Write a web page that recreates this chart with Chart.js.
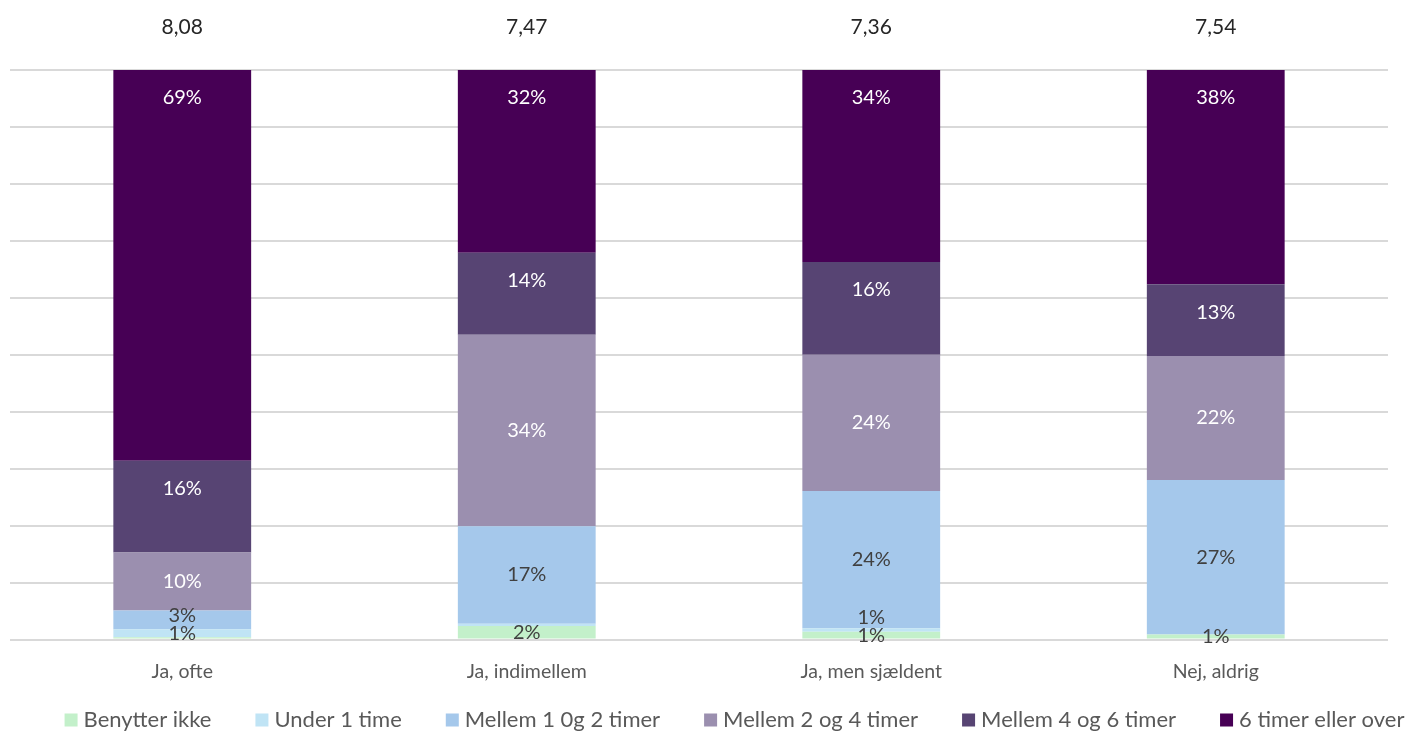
<!DOCTYPE html>
<html>
<head>
<meta charset="utf-8">
<script src="https://cdn.jsdelivr.net/npm/chart.js@4/dist/chart.umd.min.js"></script>
<style>
html,body{margin:0;padding:0;background:#fff;}
#wrap{width:1409px;height:735px;}
</style>
</head>
<body>
<div id="wrap"><canvas id="c" width="1409" height="735"></canvas></div>
<script>
const categories = ["Ja, ofte", "Ja, indimellem", "Ja, men sjældent", "Nej, aldrig"];
const averages = ["8,08", "7,47", "7,36", "7,54"];
const seriesNames = ["Benytter ikke", "Under 1 time", "Mellem 1 0g 2 timer", "Mellem 2 og 4 timer", "Mellem 4 og 6 timer", "6 timer eller over"];
const benytterIkke = [0.4, 2.4, 1.4, 0.9];
const under1 = [1.4, 0.4, 0.6, 0];
const mellem1og2 = [3.3, 17.1, 24.1, 27.1];
const mellem2og4 = [10.2, 33.6, 23.9, 21.8];
const mellem4og6 = [16.1, 14.4, 16.3, 12.6];
const over6 = [68.6, 32.1, 33.7, 37.6];

const seriesValues = [benytterIkke, under1, mellem1og2, mellem2og4, mellem4og6, over6];
const colors = ["#C3F0CA", "#C0E4F5", "#A5C8EB", "#9B8FAF", "#574473", "#470055"];
const labelColors = ["#404040", "#404040", "#404040", "#ffffff", "#ffffff", "#ffffff"];
const labelAnchor = ["center", "center", "center", "center", "end", "end"];
const FONT = "Lato, 'Open Sans', sans-serif";

const segLabels = {
  id: 'segLabels',
  afterDatasetsDraw(chart) {
    const ctx = chart.ctx;
    ctx.save();
    ctx.textAlign = "center";
    ctx.textBaseline = "middle";
    categories.forEach((cat, i) => {
      let lastY = null;
      ctx.font = "20px " + FONT;
      chart.data.datasets.forEach((ds, d) => {
        const v = ds.data[i];
        const r = Math.round(v);
        if (r < 1) return;
        const bar = chart.getDatasetMeta(d).data[i];
        let y = labelAnchor[d] === "end" ? bar.y + 28 : (bar.y + bar.base) / 2;
        if (lastY !== null && lastY - y < 18) y = lastY - 18;
        lastY = y;
        ctx.fillStyle = labelColors[d];
        ctx.fillText(r + "%", bar.x, y);
      });
      const topBar = chart.getDatasetMeta(chart.data.datasets.length - 1).data[i];
      ctx.font = "21px " + FONT;
      ctx.fillStyle = "#262626";
      ctx.fillText(averages[i], topBar.x, 27);
    });
    ctx.restore();
  }
};

const customLegend = {
  id: 'customLegend',
  afterDraw(chart) {
    const ctx = chart.ctx;
    ctx.save();
    ctx.font = "22px " + FONT;
    ctx.textBaseline = "middle";
    ctx.textAlign = "left";
    const box = 13, gapBox = 6, gapItem = 44;
    const items = chart.data.datasets.map(ds => ({ text: ds.label, color: ds.backgroundColor, w: ctx.measureText(ds.label).width }));
    const total = items.reduce((s, it) => s + box + gapBox + it.w, 0) + gapItem * (items.length - 1);
    let x = (chart.width - total) / 2 + 30;
    if (x + total > chart.width - 1) x = chart.width - 1 - total;
    const y = 720;
    items.forEach(it => {
      ctx.fillStyle = it.color;
      ctx.fillRect(x, y - box / 2, box, box);
      x += box + gapBox;
      ctx.fillStyle = "#595959";
      ctx.fillText(it.text, x, y);
      x += it.w + gapItem;
    });
    ctx.restore();
  }
};

new Chart(document.getElementById('c'), {
  type: 'bar',
  data: {
    labels: categories,
    datasets: seriesNames.map((n, k) => ({
      label: n,
      data: seriesValues[k],
      backgroundColor: colors[k],
      borderWidth: 0,
      categoryPercentage: 1,
      barPercentage: 0.4
    }))
  },
  options: {
    responsive: false,
    animation: false,
    layout: { padding: { left: 10, right: 21, top: 70, bottom: 40 } },
    plugins: {
      legend: { display: false },
      tooltip: { enabled: false }
    },
    scales: {
      x: {
        stacked: true,
        grid: { display: false },
        border: { display: false },
        ticks: { color: '#595959', font: { family: FONT, size: 19.5 }, padding: 12 }
      },
      y: {
        stacked: true,
        min: 0, max: 100,
        ticks: { display: false, stepSize: 10 },
        grid: { color: '#d9d9d9', lineWidth: 2, drawTicks: false },
        border: { display: false }
      }
    }
  },
  plugins: [segLabels, customLegend]
});
</script>
</body>
</html>
